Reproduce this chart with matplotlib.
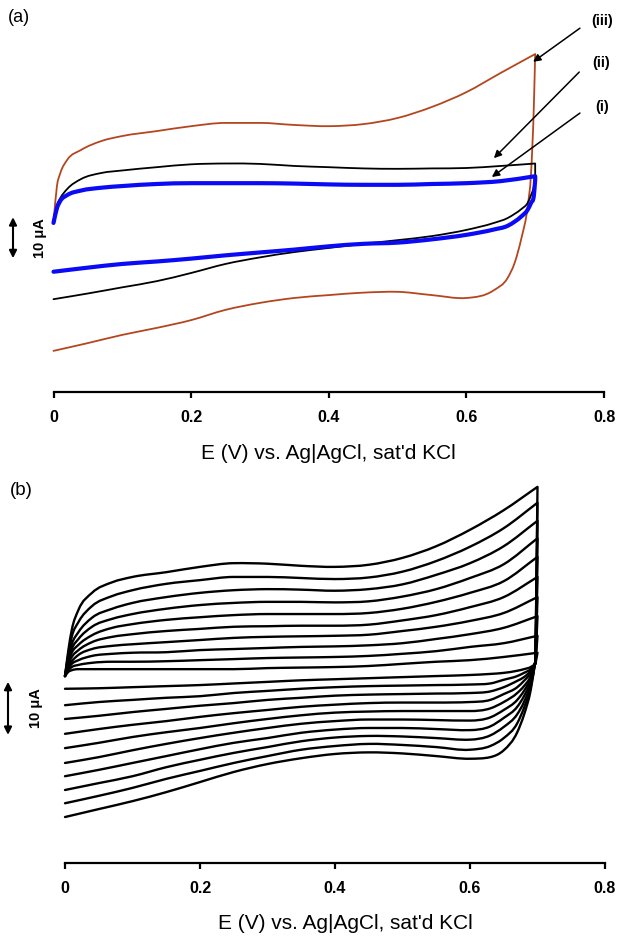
import matplotlib
matplotlib.use("Agg")
import matplotlib.pyplot as plt
from matplotlib.path import Path
from matplotlib.patches import PathPatch

plt.rcParams['font.family'] = ['Liberation Sans', 'DejaVu Sans']

# ---------------- Panel (a) data (current in uA, potential in V) ----------------
E_FWD_A = [0, 0.005, 0.01, 0.02, 0.04, 0.07, 0.1, 0.15, 0.2, 0.25, 0.3, 0.35,
           0.4, 0.45, 0.5, 0.55, 0.6, 0.65, 0.7]
E_REV_A = [0.70, 0.698, 0.694, 0.689, 0.68, 0.67, 0.66, 0.64, 0.6, 0.55, 0.5,
           0.45, 0.4, 0.35, 0.3, 0.25, 0.2, 0.15, 0.1, 0.05, 0]

I_iii_fwd = [6.6, 15.6, 18.8, 22.0, 24.4, 26.6, 27.8, 29.0, 30.2, 31.0, 31.0,
             30.5, 30.2, 30.7, 32.2, 34.9, 38.5, 43.2, 47.8]
I_iii_rev = [47.8, 34.9, 18.8, 10.5, 2.9, -3.2, -6.8, -9.8, -11.7, -11.0, -10.2,
             -10.4, -11.0, -11.7, -12.9, -14.6, -17.1, -19.0, -20.7, -22.7, -24.6]

I_ii_fwd = [7.3, 11.0, 12.7, 14.9, 17.3, 18.8, 19.4, 20.2, 20.9, 21.1, 21.0,
            20.5, 20.2, 19.9, 19.8, 19.9, 20.0, 20.5, 21.1]
I_ii_rev = [18.3, 15.6, 13.4, 11.5, 10.0, 8.8, 7.8, 6.6, 4.9, 3.4, 2.4,
            1.5, 0.5, -0.5, -1.8, -3.4, -5.6, -7.6, -9.1, -10.6, -12.0]

I_i_fwd = [6.6, 10.2, 12.0, 13.4, 14.5, 15.2, 15.6, 16.1, 16.3, 16.3, 16.3,
           16.2, 16.0, 15.9, 15.9, 16.1, 16.3, 16.8, 18.0]
I_i_rev = [17.1, 13.2, 11.5, 9.8, 8.2, 6.9, 5.9, 5.0, 3.7, 2.6, 1.8,
           1.5, 0.9, 0.1, -0.6, -1.3, -2.1, -2.8, -3.4, -4.3, -5.3]

CURVE_LABELS_A = ["(i)", "(ii)", "(iii)"]

# ---------------- Panel (b) data: 10 successive cycles ----------------
E_FWD_B = [0, 0.005, 0.01, 0.02, 0.04, 0.07, 0.1, 0.15, 0.2, 0.25, 0.3, 0.35,
           0.4, 0.45, 0.5, 0.55, 0.6, 0.65, 0.7]
E_REV_B = [0.697, 0.69, 0.68, 0.67, 0.65, 0.63, 0.6, 0.55, 0.5, 0.45, 0.4,
           0.35, 0.3, 0.25, 0.2, 0.15, 0.1, 0.05, 0]

I_B_FWD = [
    [-0.2, 0.6, 0.9, 1.1, 1.1, 1.1, 1.1, 1.1, 1.1, 1.1, 1.3, 1.4, 1.5, 1.7, 2.1, 2.5, 2.8, 3.4, 4.2],
    [-0.2, 0.9, 1.5, 1.9, 2.3, 2.5, 2.5, 2.6, 2.8, 3.0, 3.2, 3.3, 3.4, 3.6, 4.0, 4.5, 5.3, 6.0, 7.4],
    [-0.2, 1.3, 2.1, 2.8, 3.6, 4.0, 4.2, 4.3, 4.7, 4.9, 5.1, 5.3, 5.4, 5.6, 6.0, 6.8, 7.7, 8.9, 11.1],
    [-0.2, 1.7, 2.6, 3.8, 4.9, 5.5, 5.8, 6.2, 6.6, 7.0, 7.2, 7.3, 7.4, 7.6, 8.3, 9.1, 10.2, 11.7, 14.7],
    [-0.2, 2.1, 3.4, 4.7, 6.2, 7.2, 7.7, 8.3, 8.7, 9.1, 9.2, 9.3, 9.3, 9.5, 10.3, 11.3, 12.8, 14.7, 18.5],
    [-0.2, 2.5, 4.2, 5.7, 7.5, 8.9, 9.6, 10.4, 10.9, 11.3, 11.5, 11.5, 11.5, 11.7, 12.5, 13.8, 15.5, 17.7, 22.3],
    [-0.2, 2.8, 4.9, 6.8, 9.1, 10.6, 11.5, 12.5, 13.2, 13.6, 13.8, 13.8, 13.7, 13.9, 14.8, 16.2, 18.3, 20.9, 25.8],
    [-0.2, 3.4, 5.8, 8.1, 10.8, 12.5, 13.6, 14.7, 15.5, 16.0, 16.2, 16.1, 15.9, 16.2, 17.1, 18.9, 21.1, 24.3, 29.1],
    [-0.2, 4.0, 7.2, 10.0, 13.0, 14.9, 16.0, 17.2, 17.9, 18.5, 18.5, 18.3, 18.1, 18.4, 19.5, 21.5, 24.2, 27.7, 32.5],
    [-0.2, 4.7, 8.5, 12.3, 15.5, 17.5, 18.5, 19.4, 20.4, 21.1, 21.0, 20.6, 20.4, 20.8, 22.1, 24.3, 27.4, 31.1, 35.5],
]
I_B_REV = [
    [2.1, 1.5, 1.1, 0.8, 0.4, 0.2, 0.0, -0.2, -0.4, -0.6, -0.8, -1.0, -1.3, -1.6, -1.9, -2.1, -2.3, -2.5, -2.6],
    [2.1, 1.1, 0.4, -0.2, -0.9, -1.6, -1.8, -1.9, -2.0, -2.1, -2.3, -2.6, -3.0, -3.4, -4.0, -4.3, -4.7, -5.1, -5.7],
    [2.3, 0.8, -0.4, -1.1, -2.3, -3.1, -3.4, -3.5, -3.6, -3.7, -3.9, -4.3, -4.7, -5.3, -5.8, -6.4, -7.0, -7.7, -8.3],
    [2.3, 0.4, -1.1, -2.3, -3.6, -4.7, -5.1, -5.2, -5.2, -5.3, -5.6, -6.0, -6.6, -7.2, -7.9, -8.7, -9.4, -10.2, -11.1],
    [2.5, -0.2, -2.1, -3.4, -5.1, -6.3, -6.8, -6.8, -6.8, -6.9, -7.1, -7.6, -8.3, -9.1, -10.0, -10.8, -11.7, -12.8, -13.8],
    [2.5, -0.6, -3.0, -4.7, -6.6, -8.0, -8.6, -8.5, -8.4, -8.4, -8.7, -9.2, -10.0, -10.9, -11.9, -13.0, -14.2, -15.5, -16.6],
    [2.6, -1.1, -4.0, -6.0, -8.1, -9.7, -10.4, -10.2, -10.0, -10.0, -10.3, -10.9, -11.9, -12.8, -14.0, -15.3, -16.6, -17.9, -19.1],
    [2.6, -1.7, -5.1, -7.4, -9.8, -11.4, -12.2, -11.9, -11.6, -11.5, -11.8, -12.5, -13.6, -14.7, -16.0, -17.4, -19.1, -20.4, -21.7],
    [2.8, -2.3, -6.2, -9.1, -11.9, -13.4, -14.1, -13.6, -13.2, -13.0, -13.4, -14.1, -15.3, -16.6, -18.1, -19.6, -21.3, -22.8, -24.2],
    [2.8, -2.8, -7.5, -10.8, -14.2, -15.5, -15.8, -15.3, -14.8, -14.6, -14.9, -15.7, -16.8, -18.3, -20.2, -22.1, -23.8, -25.3, -26.8],
]

X_TICKS = [0, 0.2, 0.4, 0.6, 0.8]
X_TICKLABELS = ["0", "0.2", "0.4", "0.6", "0.8"]
XLABEL = "E (V) vs. Ag|AgCl, sat'd KCl"
SCALE_LABEL = "10 \u03bcA"


# ---------------- smooth (Hermite / Bezier) rendering of a branch ----------------
def _tangents(x, y):
    n = len(x)
    h = [x[k + 1] - x[k] for k in range(n - 1)]
    d = [(y[k + 1] - y[k]) / h[k] for k in range(n - 1)]
    m = [0.0] * n
    m[0], m[-1] = d[0], d[-1]
    for k in range(1, n - 1):
        a, b = abs(h[k - 1]), abs(h[k])
        par = (b * d[k - 1] + a * d[k]) / (a + b)
        lo = min(abs(d[k - 1]), abs(d[k]))
        lim = 3 * lo if d[k - 1] * d[k] > 0 else lo
        if abs(par) > lim:
            par = lim if par > 0 else -lim
        m[k] = par
    return h, m


def _bezier(x, y, verts, codes, first):
    h, m = _tangents(x, y)
    verts.append((x[0], y[0]))
    codes.append(Path.MOVETO if first else Path.LINETO)
    for k in range(len(x) - 1):
        verts += [(x[k] + h[k] / 3, y[k] + m[k] * h[k] / 3),
                  (x[k + 1] - h[k] / 3, y[k + 1] - m[k + 1] * h[k] / 3),
                  (x[k + 1], y[k + 1])]
        codes += [Path.CURVE4] * 3


def draw_cycle(ax, xf, yf, xr, yr, **kw):
    verts, codes = [], []
    _bezier(xf, yf, verts, codes, True)
    _bezier(xr, yr, verts, codes, False)
    patch = PathPatch(Path(verts, codes), fill=False, capstyle="round",
                      joinstyle="round", clip_on=False, **kw)
    ax.add_patch(patch)


# ---------------- Figure ----------------
W, H = 617, 939
fig = plt.figure(figsize=(W / 100, H / 100), dpi=100)


def px_axes(left, right, top, bottom):
    return fig.add_axes([left / W, 1 - bottom / H, (right - left) / W, (bottom - top) / H])


ax_a = px_axes(53.5, 604, 30, 391.7)
ax_b = px_axes(65, 605, 478, 863.3)


def style_axis(ax, ylim, label_x, label_y):
    ax.set_xlim(0, 0.8)
    ax.set_ylim(*ylim)
    for s in ("left", "right", "top"):
        ax.spines[s].set_visible(False)
    ax.spines["bottom"].set_linewidth(1.6)
    ax.set_yticks([])
    ax.set_xticks(X_TICKS)
    ax.set_xticklabels(X_TICKLABELS, fontsize=11.5, fontweight="bold")
    ax.tick_params(axis="x", direction="out", length=4.5, width=1.6, pad=8.5)
    ax.set_xlabel(XLABEL, fontsize=15)
    ax.xaxis.set_label_coords(label_x, label_y)
    ax.xaxis.label.set_va("center")


style_axis(ax_a, (-34.56, 53.66), 0.4986, -0.1695)
style_axis(ax_b, (-35.53, 37.17), 0.5185, -0.1575)

# Panel (a) curves
brown = "#B4461E"
draw_cycle(ax_a, E_FWD_A, I_iii_fwd, E_REV_A, I_iii_rev, edgecolor=brown, lw=1.3)
draw_cycle(ax_a, E_FWD_A, I_ii_fwd, E_REV_A, I_ii_rev, edgecolor="black", lw=1.3)
draw_cycle(ax_a, E_FWD_A, I_i_fwd, E_REV_A, I_i_rev, edgecolor="#0A0AF5", lw=3.0)

# labels with arrows
ann_pos = {
    "(iii)": ((0.797, 55.9), (0.765, 54.1), (0.697, 45.9)),
    "(ii)": ((0.796, 45.6), (0.764, 43.4), (0.640, 22.4)),
    "(i)": ((0.797, 34.9), (0.765, 33.4), (0.637, 17.8)),
}
for lab in CURVE_LABELS_A:
    txt, tail, head = ann_pos[lab]
    ax_a.text(txt[0], txt[1], lab, fontsize=10.5, fontweight="bold",
              ha="center", va="center", clip_on=False)
    ax_a.annotate("", xy=head, xytext=tail, annotation_clip=False,
                  arrowprops=dict(arrowstyle="-|>", color="black", lw=1.1,
                                  mutation_scale=11, shrinkA=0, shrinkB=0))

# Panel (b) curves
for f, r in zip(I_B_FWD, I_B_REV):
    draw_cycle(ax_b, E_FWD_B, f, E_REV_B, r, edgecolor="black", lw=1.7)


# scale bars
def scale_bar(ax, x_arrow, x_text, y0):
    tr = ax.get_yaxis_transform()
    ax.annotate("", xy=(x_arrow, y0), xytext=(x_arrow, y0 + 10), xycoords=tr,
                textcoords=tr, annotation_clip=False,
                arrowprops=dict(arrowstyle="<|-|>", color="black", lw=1.5,
                                mutation_scale=11, shrinkA=0, shrinkB=0))
    ax.text(x_text, y0 + 5, SCALE_LABEL, transform=tr, rotation=90,
            fontsize=10.5, fontweight="bold", ha="center", va="center")


scale_bar(ax_a, (13 - 53.5) / 550.5, (40 - 53.5) / 550.5, -2.0)
scale_bar(ax_b, (8 - 65) / 540, (36 - 65) / 540, -11.3)

# panel letters
fig.text(8 / W, 1 - 18 / H, "(a)", fontsize=13, ha="left", va="center")
fig.text(10 / W, 1 - 490 / H, "(b)", fontsize=13.5, ha="left", va="center")

fig.savefig("out.png", dpi=100)
